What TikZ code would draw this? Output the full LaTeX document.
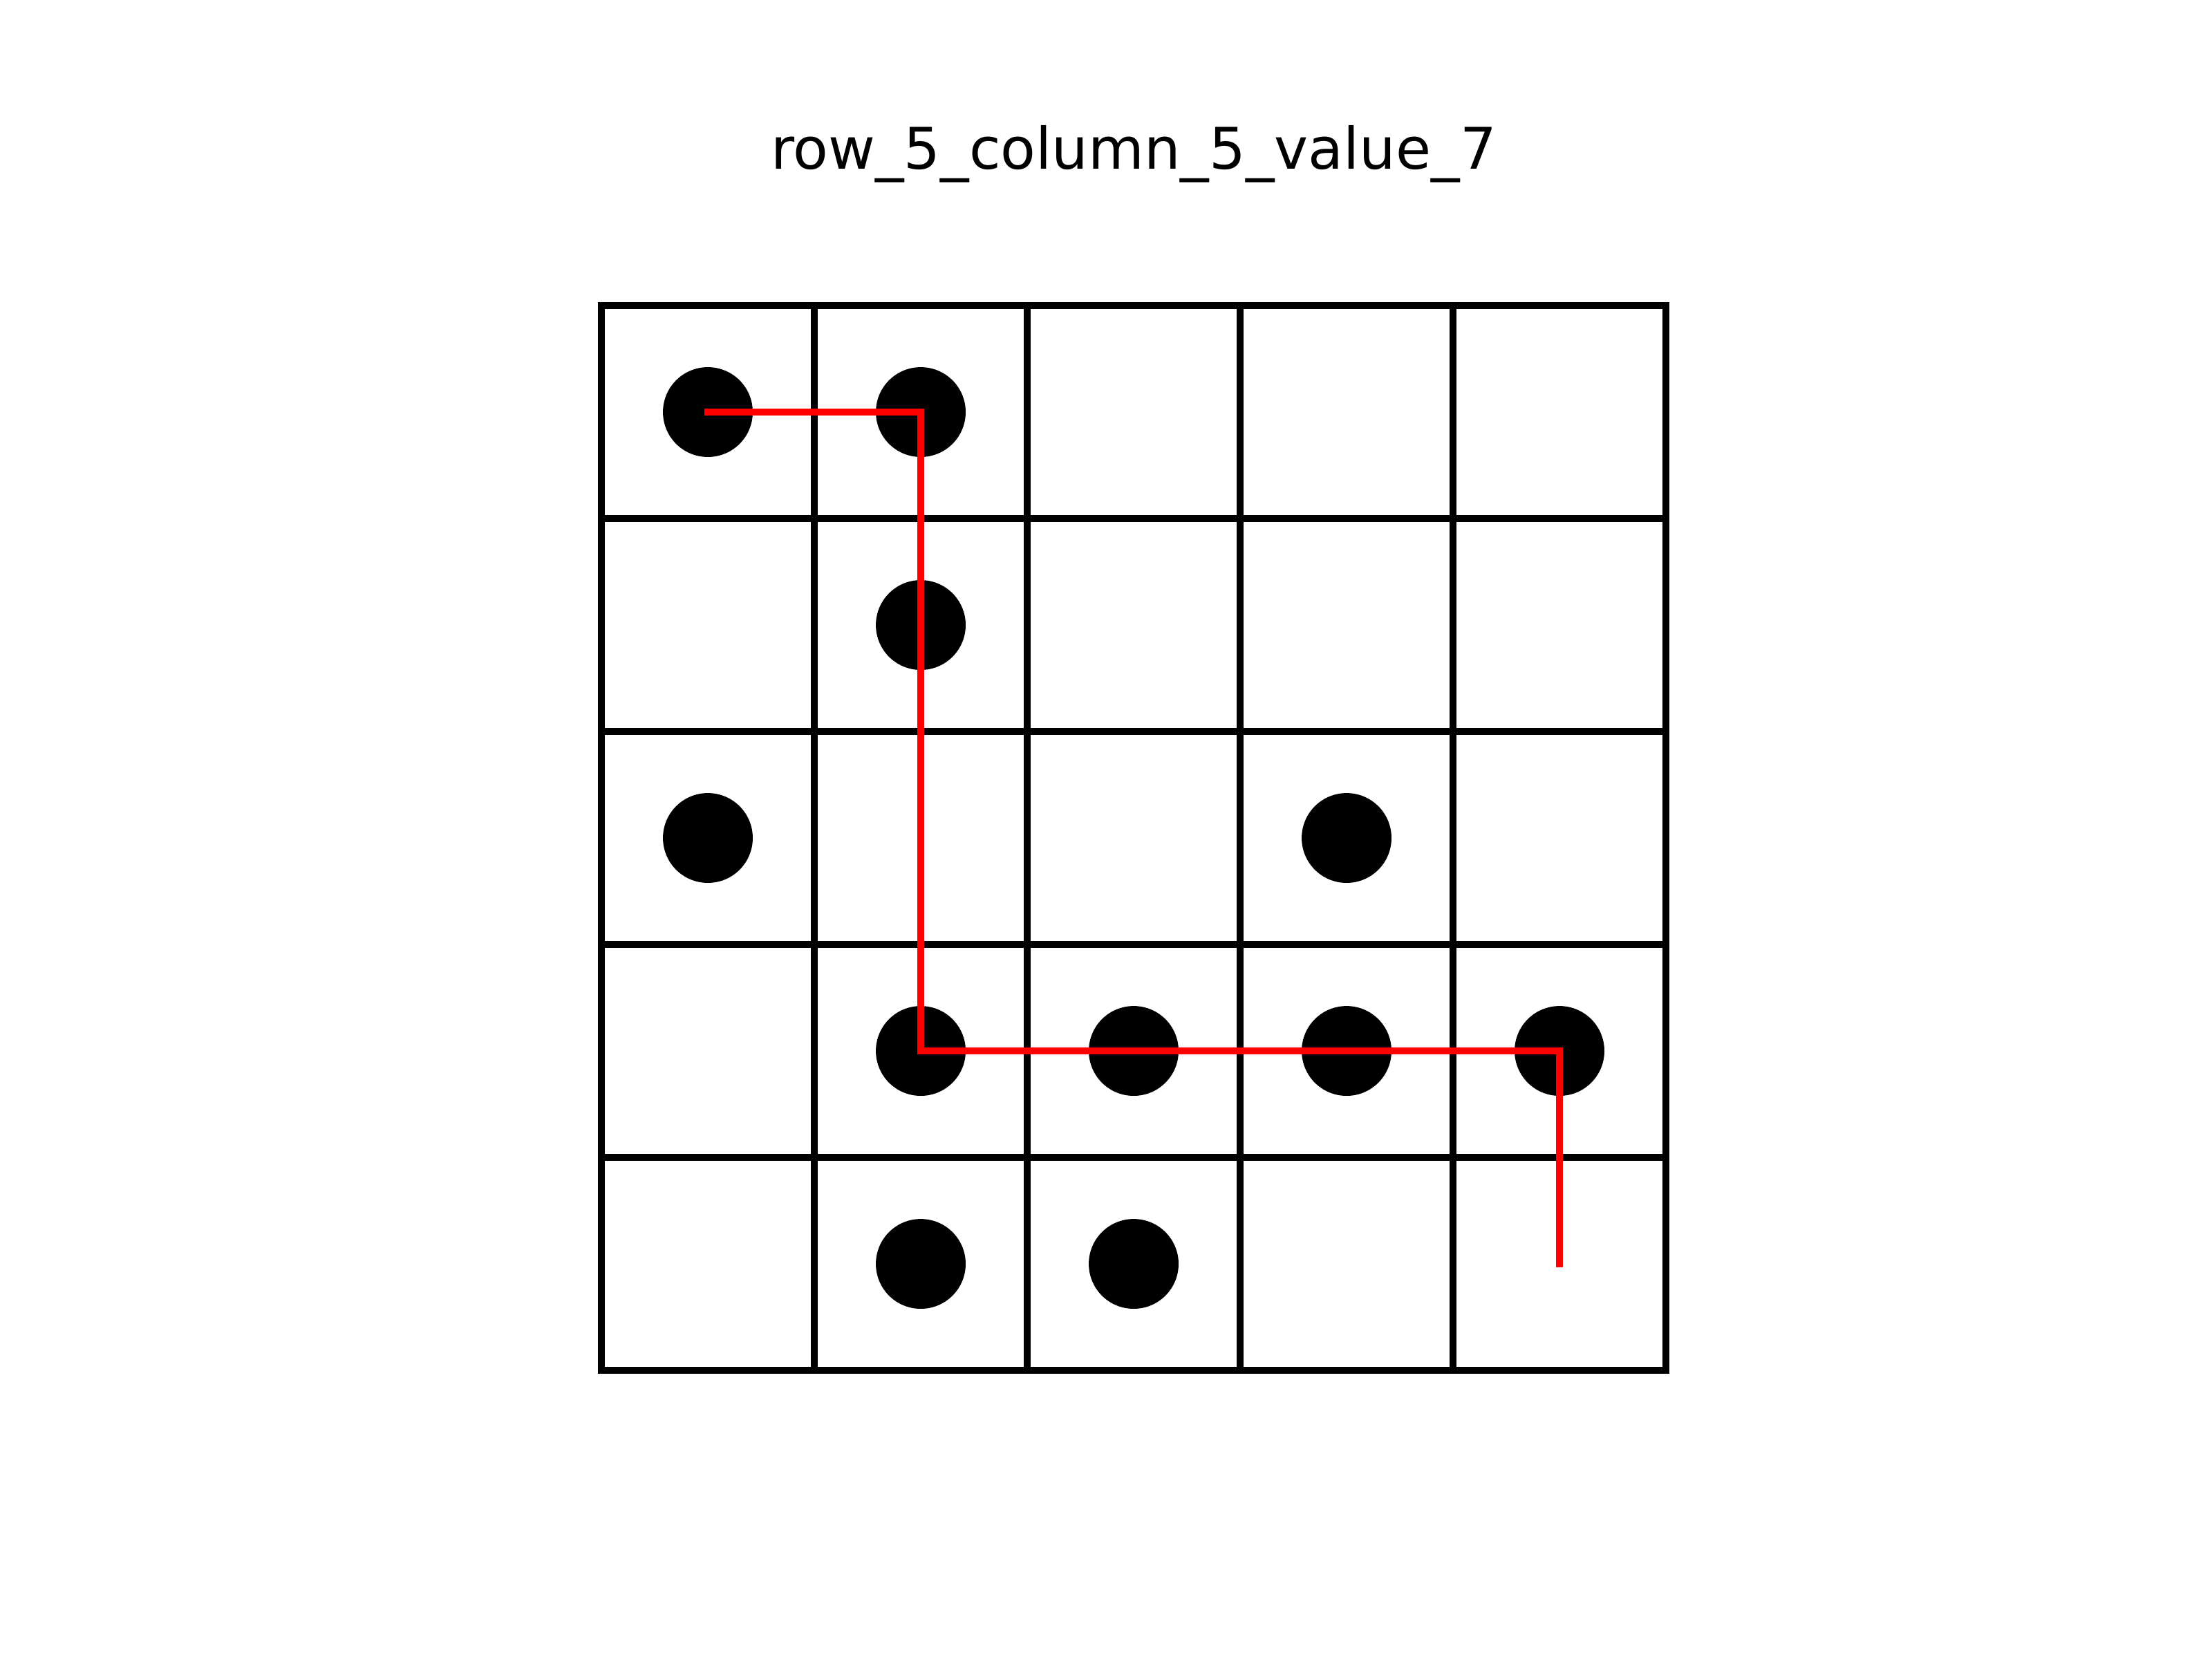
\documentclass[tikz,border=0pt]{standalone}
\usepackage{fontspec}
\setmainfont{DejaVu Sans}
\begin{document}
\begin{tikzpicture}[x=1.5649cm, y=1.5649cm,
    gridline/.style={line width=1.44pt, line cap=rect},
    dot/.style={circle, fill=black, inner sep=0pt, minimum size=0.66cm},
    route/.style={red, line width=1.5pt, line cap=rect, line join=miter}]
    % 画布
    \useasboundingbox (-2.8247, -1.3571) rectangle (7.5649, 6.4351);

    % 标题
    \node[anchor=base, font=\fontsize{12}{14}\selectfont] (title) at (2.5, 5.64) {row\_5\_column\_5\_value\_7};

    % 网格
    \foreach \i in {0,...,5} {
        \draw[gridline] (\i, 0) -- (\i, 5);
        \draw[gridline] (0, \i) -- (5, \i);
    }

    % 黑点
    \node[dot] (d11) at (0.5, 4.5) {};
    \node[dot] (d12) at (1.5, 4.5) {};
    \node[dot] (d22) at (1.5, 3.5) {};
    \node[dot] (d31) at (0.5, 2.5) {};
    \node[dot] (d34) at (3.5, 2.5) {};
    \node[dot] (d42) at (1.5, 1.5) {};
    \node[dot] (d43) at (2.5, 1.5) {};
    \node[dot] (d44) at (3.5, 1.5) {};
    \node[dot] (d45) at (4.5, 1.5) {};
    \node[dot] (d52) at (1.5, 0.5) {};
    \node[dot] (d53) at (2.5, 0.5) {};
    \coordinate (c55) at (4.5, 0.5);

    % 路径
    \draw[route] (d11.center) -- (d12.center) -- (d42.center) -- (d45.center) -- (c55);
\end{tikzpicture}
\end{document}
